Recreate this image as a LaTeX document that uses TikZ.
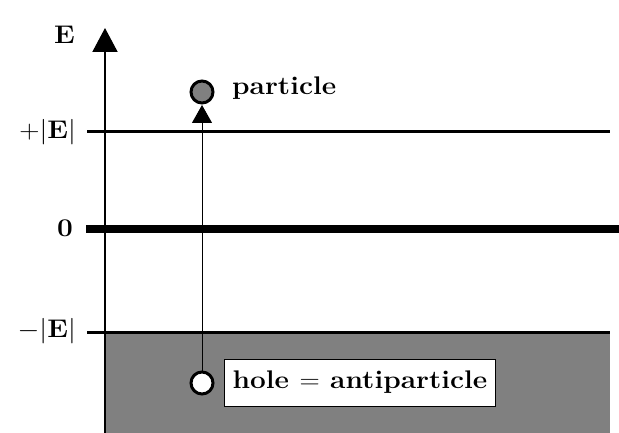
\RequirePackage{fix-cm}
\documentclass[tikz,border=0pt]{standalone}
\usepackage{graphicx}
\usetikzlibrary{arrows.meta}
\definecolor{seagray}{RGB}{128,128,128}
\newcommand{\wtxt}[1]{\scalebox{1.1}[1]{#1}}
\tikzset{
  lbl/.style={font=\fontsize{25.5}{30}\selectfont\bfseries, inner sep=0pt},
  level/.style={line width=3pt},
  dot/.style={circle, draw, line width=3pt, minimum size=22pt, inner sep=0pt},
}
\begin{document}
\begin{tikzpicture}[x=1pt,y=-1pt]
\useasboundingbox (0,0) rectangle (619,433);
% filled sea
\fill[seagray] (105,332) rectangle (610,433);
% levels
\coordinate (pl) at (87,132); \coordinate (pr) at (610,132);
\coordinate (zl) at (86,229); \coordinate (zr) at (619,229);
\coordinate (ml) at (87,332); \coordinate (mr) at (610,332);
\draw[level] (pl) -- (pr);
\draw[line width=7pt] (zl) -- (zr);
\draw[level] (ml) -- (mr);
% axis
\coordinate (ab) at (105,433); \coordinate (at) at (105,28);
\draw[line width=2pt, -{Triangle[width=25pt,length=24pt]}] (ab) -- (at);
% labels
\node[lbl, anchor=east] (E) at (75,35) {\wtxt{E}};
\node[lbl, anchor=east] (lp) at (76,132) {\wtxt{$+\big|\mathbf{E}\big|$}};
\node[lbl, anchor=east] (l0) at (73,228) {\wtxt{$\mathbf{0}$}};
\node[lbl, anchor=east] (lm) at (76,331) {\wtxt{$-\big|\mathbf{E}\big|$}};
% particle and hole
\node[dot, fill=seagray] (p) at (202,92) {};
\node[dot, fill=white] (h) at (202,383) {};
\draw[line width=1pt, -{Triangle[width=20pt,length=18pt]}, shorten >=0.5pt] (h) -- (p);
\node[lbl, anchor=base west] (pt) at (232,95) {\wtxt{particle}};
\node[lbl, anchor=west, draw, line width=1pt, fill=white, inner xsep=8pt, minimum height=47pt] (ht) at (224,382.5) {\wtxt{hole $=$ antiparticle}};
\end{tikzpicture}
\end{document}
